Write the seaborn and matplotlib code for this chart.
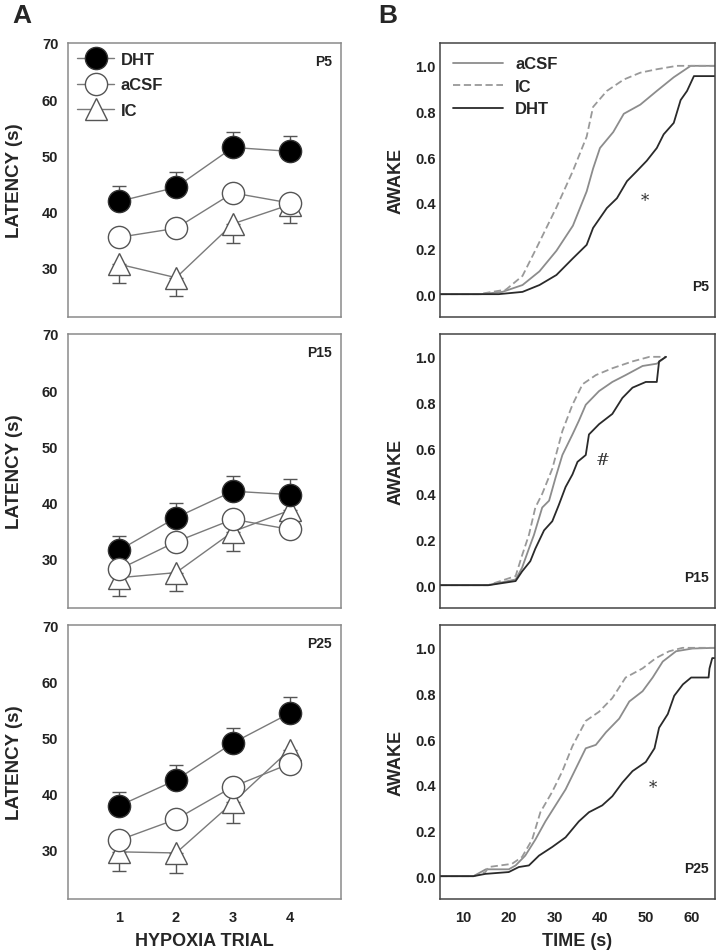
import numpy as np
import pandas as pd
import matplotlib
matplotlib.use("Agg")
import matplotlib.pyplot as plt
import seaborn as sns

# Latency data (mean, SEM) per hypoxia trial
trials = [1, 2, 3, 4]

p5_dht = [41.8, 44.3, 51.4, 50.7]
p5_dht_sem = [2.7, 2.7, 2.7, 2.7]
p5_acsf = [35.4, 37.0, 43.3, 41.5]
p5_ic = [30.6, 28.2, 37.8, 41.2]
p5_ic_sem = [3.4, 3.3, 3.5, 3.3]

p15_dht = [31.5, 37.3, 42.0, 41.4]
p15_dht_sem = [2.5, 2.6, 2.7, 2.7]
p15_acsf = [28.1, 33.0, 37.0, 35.2]
p15_ic = [26.6, 27.5, 34.8, 38.6]
p15_ic_sem = [3.3, 3.3, 3.4, 3.6]

p25_dht = [37.8, 42.4, 49.0, 54.3]
p25_dht_sem = [2.5, 2.7, 2.7, 2.8]
p25_acsf = [31.7, 35.4, 41.2, 45.3]
p25_ic = [29.6, 29.4, 38.4, 47.8]
p25_ic_sem = [3.5, 3.6, 3.6, 3.4]

# Cumulative fraction awake vs time (s)
p5_acsf_t = [5, 14, 18.6, 23.0, 26.7, 30.4, 34.0, 37.0, 38.4, 39.9, 42.8, 45.1, 48.7, 52.3, 56.0, 59.7, 65]
p5_acsf_y = [0, 0, 0.01, 0.04, 0.10, 0.19, 0.30, 0.45, 0.55, 0.64, 0.71, 0.79, 0.83, 0.89, 0.95, 1.0, 1.0]
p5_ic_t = [5, 13.4, 19.4, 23.0, 26.0, 30.4, 34.0, 37.0, 38.4, 41.4, 45.1, 48.7, 52.3, 56.7, 65]
p5_ic_y = [0, 0, 0.02, 0.08, 0.20, 0.38, 0.54, 0.69, 0.82, 0.89, 0.94, 0.97, 0.985, 1.0, 1.0]
p5_dht_t = [5, 17.8, 23.0, 26.7, 30.4, 34.0, 37.0, 38.4, 41.4, 43.6, 45.8, 48.0, 50.1, 52.3, 53.8, 56.0, 57.5, 58.9, 60.4, 65]
p5_dht_y = [0, 0, 0.01, 0.04, 0.084, 0.157, 0.216, 0.29, 0.377, 0.42, 0.495, 0.54, 0.584, 0.64, 0.70, 0.75, 0.85, 0.89, 0.955, 0.955]

p15_acsf_t = [5, 15.5, 21.5, 22.9, 24.4, 25.5, 27.3, 28.8, 30.2, 31.7, 33.9, 35.3, 36.8, 39.7, 42.6, 45.5, 49.2, 52.3, 54.3]
p15_acsf_y = [0, 0, 0.025, 0.076, 0.16, 0.22, 0.34, 0.37, 0.47, 0.57, 0.66, 0.72, 0.79, 0.85, 0.89, 0.92, 0.96, 0.97, 1.0]
p15_ic_t = [5, 15.5, 21.5, 22.9, 24.4, 25.8, 27.3, 29.5, 31.7, 33.9, 36.1, 39.0, 42.6, 47.0, 50.7, 54.3]
p15_ic_y = [0, 0, 0.04, 0.13, 0.22, 0.34, 0.40, 0.51, 0.675, 0.79, 0.88, 0.92, 0.95, 0.98, 1.0, 1.0]
p15_dht_t = [5, 15.6, 21.5, 22.9, 24.7, 25.8, 27.7, 29.5, 30.9, 32.4, 33.9, 35.0, 36.8, 37.5, 39.7, 42.6, 44.8, 47.0, 49.9, 52.3, 52.8, 54.3]
p15_dht_y = [0, 0, 0.018, 0.06, 0.105, 0.16, 0.24, 0.28, 0.35, 0.43, 0.485, 0.54, 0.57, 0.66, 0.705, 0.75, 0.82, 0.865, 0.89, 0.89, 0.98, 1.0]

p25_acsf_t = [5, 12.3, 15.0, 20.0, 21.5, 23.6, 25.8, 28.0, 30.2, 32.4, 34.6, 36.8, 39.0, 41.2, 44.1, 46.3, 49.2, 51.4, 53.6, 56.5, 60.1, 65]
p25_acsf_y = [0, 0, 0.03, 0.03, 0.047, 0.09, 0.16, 0.24, 0.31, 0.38, 0.47, 0.56, 0.575, 0.63, 0.69, 0.765, 0.81, 0.87, 0.94, 0.985, 0.997, 1.0]
p25_ic_t = [5, 12.3, 14.9, 15.6, 20.7, 22.9, 25.1, 26.9, 29.5, 31.7, 33.9, 36.8, 39.7, 42.6, 45.5, 49.2, 52.1, 55.0, 57.9, 65]
p25_ic_y = [0, 0, 0.018, 0.04, 0.054, 0.084, 0.16, 0.28, 0.37, 0.46, 0.57, 0.68, 0.72, 0.78, 0.87, 0.91, 0.955, 0.985, 1.0, 1.0]
p25_dht_t = [5, 12.3, 14.9, 20.0, 22.2, 24.4, 26.6, 29.5, 32.4, 35.3, 37.5, 40.4, 42.6, 44.8, 47.0, 49.9, 51.8, 52.8, 54.7, 56.1, 58.0, 59.8, 63.6, 63.8, 64.4, 65]
p25_dht_y = [0, 0, 0.01, 0.018, 0.04, 0.047, 0.09, 0.128, 0.17, 0.24, 0.28, 0.31, 0.35, 0.41, 0.46, 0.50, 0.56, 0.65, 0.71, 0.79, 0.84, 0.87, 0.87, 0.91, 0.955, 0.955]

ages = ["P5", "P15", "P25"]
marks = ["*", "#", "*"]
mark_pos = [(49.8, 0.41), (40.4, 0.55), (51.4, 0.39)]

sns.set_style("white")
plt.rcParams['font.family'] = ['Liberation Sans', 'DejaVu Sans']
plt.rcParams['font.weight'] = 'bold'

fig = plt.figure(figsize=(7.17, 9.53), dpi=100)
H = 953.0
W = 717.0
tops = [44, 335, 626]
ax_h = 274

latency = [
    (p5_dht, p5_dht_sem, p5_acsf, p5_ic, p5_ic_sem),
    (p15_dht, p15_dht_sem, p15_acsf, p15_ic, p15_ic_sem),
    (p25_dht, p25_dht_sem, p25_acsf, p25_ic, p25_ic_sem),
]
cdfs = [
    ((p5_acsf_t, p5_acsf_y), (p5_ic_t, p5_ic_y), (p5_dht_t, p5_dht_y)),
    ((p15_acsf_t, p15_acsf_y), (p15_ic_t, p15_ic_y), (p15_dht_t, p15_dht_y)),
    ((p25_acsf_t, p25_acsf_y), (p25_ic_t, p25_ic_y), (p25_dht_t, p25_dht_y)),
]

line_gray = "#7a7a7a"
edge_gray = "#555555"

for i in range(3):
    bottom = 1 - (tops[i] + ax_h) / H
    axA = fig.add_axes([68 / W, bottom, 273 / W, ax_h / H])
    axB = fig.add_axes([440 / W, bottom, 275 / W, ax_h / H])

    dht, dht_sem, acsf, ic, ic_sem = latency[i]
    df = pd.DataFrame({"trial": trials, "DHT": dht, "aCSF": acsf, "IC": ic})

    # error bars: DHT upward, IC downward
    axA.errorbar(trials, dht, yerr=[np.zeros(4), dht_sem], fmt="none",
                 ecolor=edge_gray, elinewidth=1, capsize=5, zorder=1)
    axA.errorbar(trials, ic, yerr=[ic_sem, np.zeros(4)], fmt="none",
                 ecolor=edge_gray, elinewidth=1, capsize=5, zorder=1)

    sns.lineplot(data=df, x="trial", y="DHT", ax=axA, color=line_gray, lw=1,
                 marker="o", markersize=16, markerfacecolor="black",
                 markeredgecolor="#333333", markeredgewidth=1, label="DHT", zorder=3)
    sns.lineplot(data=df, x="trial", y="aCSF", ax=axA, color=line_gray, lw=1,
                 marker="o", markersize=16, markerfacecolor="white",
                 markeredgecolor=edge_gray, markeredgewidth=1, label="aCSF", zorder=3)
    sns.lineplot(data=df, x="trial", y="IC", ax=axA, color=line_gray, lw=1,
                 marker="^", markersize=16, markerfacecolor="white",
                 markeredgecolor=edge_gray, markeredgewidth=1, label="IC", zorder=2)

    axA.set_xlim(0.1, 4.9)
    axA.set_ylim(21.2, 70)
    axA.set_yticks([30, 40, 50, 60, 70])
    axA.set_xticks(trials)
    axA.set_ylabel("LATENCY (s)", fontsize=13.5, fontweight="bold")
    axA.yaxis.set_label_coords(-0.165, 0.5)
    axA.text(0.967, 0.934, ages[i], transform=axA.transAxes, ha="right",
             va="center", fontsize=10, fontweight="bold", color="#222222")

    # cumulative curves
    (ta, ya), (ti, yi), (td, yd) = cdfs[i]
    sns.lineplot(x=ta, y=ya, ax=axB, color="#8c8c8c", lw=1.3, sort=False,
                 estimator=None, label="aCSF")
    sns.lineplot(x=ti, y=yi, ax=axB, color="#999999", lw=1.3, sort=False,
                 estimator=None, dashes=False, linestyle=(0, (4, 2)), label="IC")
    sns.lineplot(x=td, y=yd, ax=axB, color="#2a2a2a", lw=1.3, sort=False,
                 estimator=None, label="DHT")
    axB.set_xlim(5, 65)
    axB.set_ylim(-0.1, 1.1)
    axB.set_xticks([10, 20, 30, 40, 50, 60])
    axB.set_yticks([0.0, 0.2, 0.4, 0.6, 0.8, 1.0])
    axB.set_yticklabels(["0.0", "0.2", "0.4", "0.6", "0.8", "1.0"])
    axB.set_ylabel("AWAKE", fontsize=13, fontweight="bold")
    axB.yaxis.set_label_coords(-0.128, 0.5)
    axB.text(0.978, 0.113, ages[i], transform=axB.transAxes, ha="right",
             va="center", fontsize=10, fontweight="bold", color="#222222")
    axB.text(mark_pos[i][0], mark_pos[i][1], marks[i], ha="center", va="center",
             fontsize=12, fontweight="normal", family="DejaVu Serif", color="#333333")

    for ax, sc in ((axA, "#8a8a8a"), (axB, "#444444")):
        for s in ax.spines.values():
            s.set_color(sc)
            s.set_linewidth(1.1)
        ax.tick_params(axis="both", direction="in", colors=sc, labelcolor="#222222",
                       labelsize=10.5, width=1)
        ax.tick_params(axis="x", length=7, pad=8)
        ax.tick_params(axis="y", length=0, pad=3)
        for lab in ax.get_xticklabels() + ax.get_yticklabels():
            lab.set_fontweight("bold")
        ax.set_xlabel("")
        if i < 2:
            ax.set_xticklabels([])

    axA.tick_params(axis="y", length=7, pad=7)

    if i == 0:
        axA.legend(loc="upper left", frameon=False, handlelength=2.2,
                   handletextpad=0.4, labelspacing=0.62, borderaxespad=0.15,
                   prop={"weight": "bold", "size": 12})
        axB.legend(loc="upper left", frameon=False, handlelength=3.0,
                   handletextpad=0.7, labelspacing=0.45, borderaxespad=0.3,
                   borderpad=0.5, prop={"weight": "bold", "size": 12})
    else:
        axA.get_legend().remove()
        axB.get_legend().remove()

    if i == 2:
        axA.set_xlabel("HYPOXIA TRIAL", fontsize=13, fontweight="bold", labelpad=6)
        axB.set_xlabel("TIME (s)", fontsize=13, fontweight="bold", labelpad=6)

fig.text(12 / W, 1 - 16 / H, "A", fontsize=19, fontweight="bold", va="center")
fig.text(378 / W, 1 - 16 / H, "B", fontsize=19, fontweight="bold", va="center")

fig.savefig("out.png", dpi=100)
